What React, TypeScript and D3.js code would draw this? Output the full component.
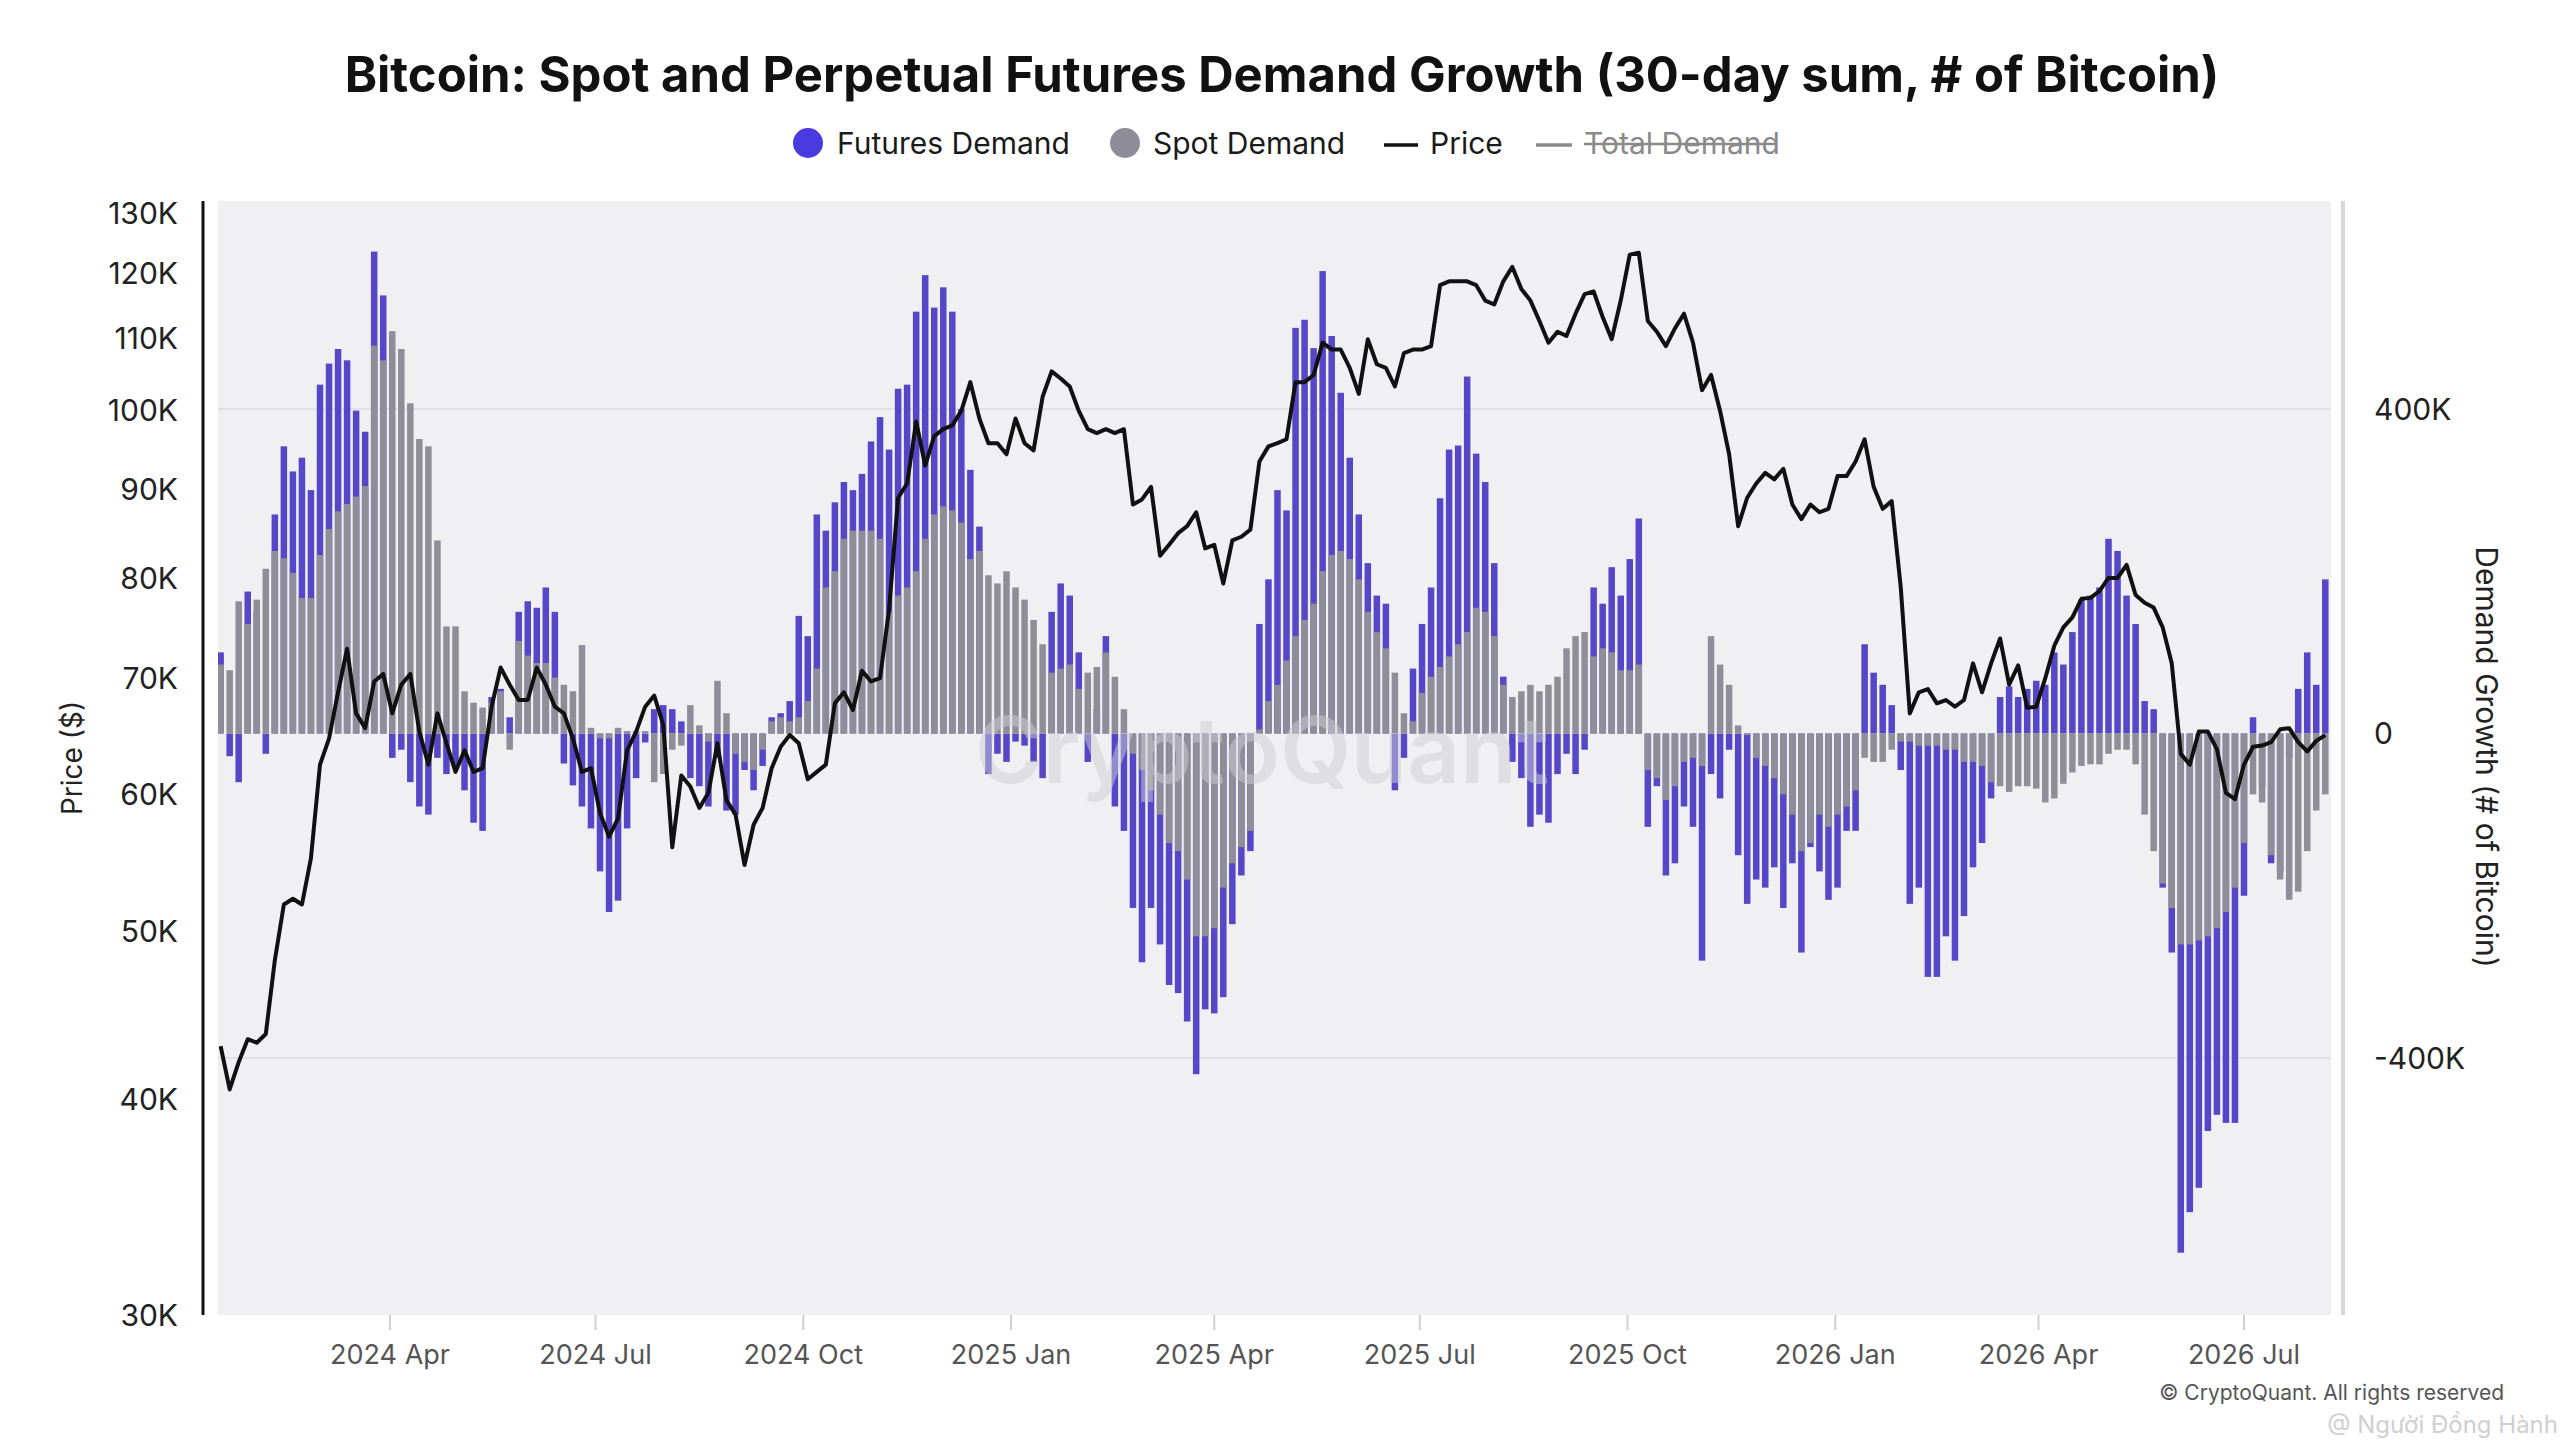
import * as d3 from "d3";

// 4-day samples, starting 2024-01-17
const START = new Date(2024, 0, 17);
const STEP_DAYS = 4;

// BTC price, thousands of USD
const priceK = [
  42.9, 40.5, 42.0, 43.3, 43.1, 43.6, 48.1, 51.8, 52.2, 51.8, 55.1, 62.4,
  64.6, 68.7, 72.8, 66.8, 65.5, 69.7, 70.4, 66.8, 69.4, 70.4, 65.2, 62.4,
  66.8, 64.2, 61.8, 63.6, 61.8, 62.1, 67.4, 71.0, 69.4, 68.0, 68.0, 71.0,
  69.4, 67.4, 66.8, 64.6, 61.8, 62.1, 58.5, 56.7, 58.1, 63.6, 65.2, 67.4,
  68.4, 65.8, 55.9, 61.5, 60.6, 58.9, 60.1, 64.2, 59.5, 58.4, 54.6, 57.6,
  58.9, 62.1, 63.9, 64.9, 64.2, 61.2, 61.8, 62.4, 67.7, 68.7, 67.1, 70.7,
  69.7, 70.0, 76.7, 89.0, 90.7, 98.5, 92.9, 96.6, 97.5, 98.0, 99.9, 103.8,
  98.9, 95.7, 95.7, 94.3, 98.9, 95.7, 94.8, 101.8, 105.3, 104.3, 103.2, 99.9,
  97.5, 97.0, 97.5, 97.0, 97.5, 88.2, 88.8, 90.3, 82.4, 83.6, 84.9, 85.7,
  87.3, 83.2, 83.6, 79.4, 84.1, 84.5, 85.3, 93.4, 95.3, 95.7, 96.2, 103.8,
  103.8, 104.8, 109.4, 108.4, 108.4, 105.8, 102.2, 109.9, 106.3, 105.8, 103.2, 107.9,
  108.4, 108.4, 108.9, 118.1, 118.7, 118.7, 118.7, 118.1, 115.7, 115.1, 118.7, 121.0,
  117.5, 115.7, 112.6, 109.4, 111.0, 110.4, 113.7, 116.7, 117.1, 113.2, 109.9, 115.7,
  123.0, 123.3, 112.6, 111.0, 108.9, 111.5, 113.7, 109.4, 102.7, 104.8, 99.9, 94.3,
  85.7, 89.0, 90.7, 92.0, 91.2, 92.5, 88.2, 86.5, 88.2, 87.3, 87.7, 91.6,
  91.6, 93.4, 96.2, 90.3, 87.7, 88.6, 79.0, 66.8, 68.7, 69.0, 67.7, 68.0,
  67.4, 68.0, 71.4, 68.7, 71.4, 73.8, 69.4, 71.2, 67.3, 67.4, 70.0, 73.1,
  74.9, 75.9, 77.8, 77.9, 78.6, 80.0, 80.0, 81.4, 78.2, 77.4, 76.9, 74.9,
  71.4, 63.3, 62.4, 65.2, 65.2, 63.7, 60.1, 59.6, 62.4, 63.9, 64.0, 64.3,
  65.4, 65.5, 64.3, 63.5, 64.4, 64.9,
];

// Futures demand growth, thousands of BTC
const futuresK = [
  100, -28, -60, 175, 150, -25, 270, 354, 323, 340, 300, 430,
  456, 474, 460, 398, 372, 594, 540, -30, -20, -60, -90, -100,
  -30, -50, -40, -70, -110, -120, 45, 55, 20, 150, 163, 155,
  180, 150, -37, -64, -90, -117, -170, -220, -206, -117, -55, -11,
  30, 35, 30, 15, -55, -65, -90, -30, -95, -100, -45, -70,
  -40, 20, 25, 40, 145, 120, 270, 250, 285, 310, 300, 320,
  360, 390, 350, 425, 430, 520, 565, 525, 550, 520, 400, 325,
  255, -50, -25, -35, -10, -15, -35, -55, 150, 185, 170, 100,
  -35, 30, 120, -90, -120, -215, -282, -215, -260, -310, -320, -355,
  -420, -340, -345, -325, -235, -175, -145, 135, 190, 300, 275, 500,
  510, 475, 570, 490, 420, 340, 270, 210, 170, 160, -70, -30,
  80, 135, 180, 290, 350, 355, 440, 345, 310, 210, 70, -35,
  -55, -115, -100, -110, -50, -25, -50, -20, 180, 160, 205, 170,
  215, 265, -115, -65, -175, -160, -90, -115, -280, -50, -80, -20,
  -150, -210, -180, -190, -165, -215, -160, -270, -140, -170, -205, -190,
  -120, -120, 110, 75, 60, 35, -45, -210, -190, -300, -300, -250,
  -280, -225, -165, -135, -80, 45, 58, 45, 55, 65, 60, 100,
  85, 125, 165, 170, 180, 240, 225, 170, 135, 40, 30, -190,
  -270, -640, -590, -560, -490, -470, -480, -480, -200, 20, -65, -160,
  -170, -30, 55, 100, 60, 190,
];

// Spot demand growth, thousands of BTC
const spotK = [
  85, 78, 163, 135, 165, 203, 225, 216, 198, 167, 167, 220,
  252, 274, 283, 292, 305, 478, 460, 496, 474, 407, 363, 354,
  238, 132, 132, 52, 38, 32, 38, 52, -20, 114, 96, 87,
  87, 69, 60, 52, 109, 7, -6, -6, 7, 3, 3, 3,
  -60, -50, -20, -15, 35, 10, -10, 65, 25, -25, -35, -45,
  -20, 15, 20, 15, 20, 40, 80, 180, 200, 240, 250, 250,
  250, 240, 150, 170, 180, 200, 240, 270, 280, 275, 260, 215,
  225, 195, 185, 200, 180, 165, 140, 110, 75, 80, 85, 55,
  75, 82, 100, 70, 30, -25, -45, -70, -100, -135, -145, -180,
  -250, -250, -240, -190, -160, -140, -120, 5, 40, 60, 90, 120,
  140, 160, 200, 220, 225, 215, 190, 150, 125, 105, 75, 25,
  15, 50, 70, 82, 95, 110, 125, 155, 150, 120, 60, 45,
  52, 60, 52, 60, 70, 105, 120, 125, 95, 105, 100, 78,
  78, 85, -45, -55, -82, -65, -35, -30, -40, 120, 85, 60,
  10, -2, -30, -40, -55, -75, -100, -145, -135, -100, -115, -100,
  -90, -70, -30, -35, -35, -20, -10, -10, -15, -15, -15, -20,
  -20, -35, -35, -40, -60, -65, -72, -65, -65, -68, -85, -80,
  -62, -48, -40, -38, -38, -25, -20, -20, -38, -100, -145, -185,
  -215, -260, -260, -255, -250, -240, -220, -190, -135, -75, -85, -150,
  -180, -205, -195, -145, -95, -75,
];

const priceTicks = [30, 40, 50, 60, 70, 80, 90, 100, 110, 120, 130];
const demandTicks = [400, 0, -400];
const demandTickLabels = ["400K", "0", "-400K"];

const FONT = "Inter, 'Noto Sans', sans-serif";
const FUT = "#5646c8";
const SPOT = "#8f8e98";

export default function App() {
  const W = 2560;
  const H = 1440;
  const plot = { left: 218, right: 2331, top: 201, bottom: 1315 };

  const x = d3
    .scaleTime()
    .domain([new Date(2024, 3, 1), new Date(2026, 6, 1)])
    .range([390, 2244]);
  const yPrice = d3.scaleLog().domain([30, 130]).range([1315, 213]);
  const yDemand = d3.scaleLinear().domain([-400, 400]).range([1058, 409]);
  const y0 = yDemand(0);

  const dates = priceK.map((_, i) => d3.timeDay.offset(START, i * STEP_DAYS));
  const monthTicks = d3.timeMonth
    .every(3)!
    .range(new Date(2024, 3, 1), new Date(2026, 6, 2));
  const fmt = d3.timeFormat("%Y %b");

  const barW = 6.5;
  const bar = (v: number, i: number, color: string, key: string) => {
    const cx = x(dates[i]);
    const yv = yDemand(v);
    return (
      <rect
        key={key}
        x={cx - barW / 2}
        y={Math.min(yv, y0)}
        width={barW}
        height={Math.abs(yv - y0)}
        fill={color}
      />
    );
  };

  const line = d3
    .line<number>()
    .x((_, i) => x(dates[i]))
    .y((d) => yPrice(d))
    .curve(d3.curveLinear);

  return (
    <svg
      width={W}
      height={H}
      style={{ position: "absolute", left: 0, top: 0, display: "block", background: "#fff" }}
      fontFamily={FONT}
    >
      <defs>
        <clipPath id="plotClip">
          <rect x={plot.left} y={plot.top} width={plot.right - plot.left} height={plot.bottom - plot.top} />
        </clipPath>
      </defs>

      {/* title */}
      <text x={1282} y={92} textAnchor="middle" fontSize={49} fontWeight={700} fill="#111">
        Bitcoin: Spot and Perpetual Futures Demand Growth (30-day sum, # of Bitcoin)
      </text>

      {/* legend */}
      <g fontSize={30} fill="#1a1a1a">
        <circle cx={808} cy={143} r={15} fill="#4b3ae0" />
        <text x={837} y={154}>Futures Demand</text>
        <circle cx={1125} cy={143} r={15} fill="#8e8c99" />
        <text x={1153} y={154}>Spot Demand</text>
        <line x1={1384} x2={1418} y1={145} y2={145} stroke="#111" strokeWidth={3.5} />
        <text x={1430} y={154}>Price</text>
        <line x1={1536} x2={1572} y1={145} y2={145} stroke="#8a8a8a" strokeWidth={3.5} />
        <text x={1584} y={154} fill="#8a8a8a">Total Demand</text>
        <line x1={1584} x2={1777} y1={144} y2={144} stroke="#8a8a8a" strokeWidth={2.5} />
      </g>

      {/* plot background */}
      <rect x={plot.left} y={plot.top} width={plot.right - plot.left} height={plot.bottom - plot.top} fill="#f0f0f2" />

      {/* grid lines of right axis */}
      {[400, -400].map((v) => (
        <line key={v} x1={plot.left} x2={plot.right} y1={yDemand(v)} y2={yDemand(v)} stroke="#e1e1e5" strokeWidth={2} />
      ))}

      <g clipPath="url(#plotClip)">
        {futuresK.map((v, i) => bar(v, i, FUT, `f${i}`))}
        {spotK.map((v, i) => bar(v, i, SPOT, `s${i}`))}
        <text x={1262} y={783} textAnchor="middle" fontSize={92} fontWeight={600} fill="#cfcfd6" opacity={0.5}>
          CryptoQuant
        </text>
        <path d={line(priceK) || ""} fill="none" stroke="#111" strokeWidth={4} strokeLinejoin="round" />
      </g>

      {/* left axis */}
      <line x1={203} x2={203} y1={plot.top} y2={plot.bottom} stroke="#111" strokeWidth={3} />
      <g fontSize={30} fill="#222" textAnchor="end">
        {priceTicks.map((t) => (
          <text key={t} x={178} y={yPrice(t)} dy="0.36em">
            {`${t}K`}
          </text>
        ))}
      </g>
      <text transform="translate(82,758) rotate(-90)" textAnchor="middle" fontSize={28} fill="#222">
        Price ($)
      </text>

      {/* right axis */}
      <line x1={2343} x2={2343} y1={plot.top} y2={plot.bottom} stroke="#d6d6da" strokeWidth={4} />
      <g fontSize={30} fill="#222">
        {demandTicks.map((t, i) => (
          <text key={t} x={2374} y={yDemand(t)} dy="0.36em">
            {demandTickLabels[i]}
          </text>
        ))}
      </g>
      <text transform="translate(2476,757) rotate(90)" textAnchor="middle" fontSize={30} fill="#222">
        Demand Growth (# of Bitcoin)
      </text>

      {/* bottom axis */}
      <g>
        {monthTicks.map((d) => (
          <g key={+d}>
            <line x1={x(d)} x2={x(d)} y1={plot.bottom} y2={plot.bottom + 15} stroke="#d0d0d4" strokeWidth={2} />
            <text x={x(d)} y={1364} textAnchor="middle" fontSize={27} fill="#555">
              {fmt(d)}
            </text>
          </g>
        ))}
      </g>

      {/* footer */}
      <text x={2504} y={1400} textAnchor="end" fontSize={21} fill="#555">
        © CryptoQuant. All rights reserved
      </text>
      <text x={2558} y={1433} textAnchor="end" fontSize={24} fill="#cfcfcf">
        @ Người Đồng Hành
      </text>
    </svg>
  );
}
